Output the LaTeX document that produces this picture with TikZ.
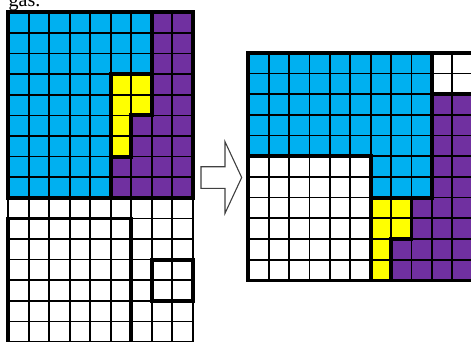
\documentclass[tikz,border=0pt]{standalone}
\usepackage{fontspec}
\setmainfont{Liberation Serif}
\definecolor{cblue}{HTML}{00B0F0}
\definecolor{cpurple}{HTML}{7030A0}
\definecolor{cyellow}{HTML}{FFFF00}
\begin{document}
\begin{tikzpicture}[x=1pt,y=-1pt,
  gridline/.style={line width=1.7pt, black},
  regionline/.style={line width=3.8pt, black, line cap=rect, line join=miter},
  arrowline/.style={line width=1.1pt, black!75, fill=white, line join=miter}]
\useasboundingbox (0,0) rectangle (471,342);
\clip (0,0) rectangle (471,342);
% text cut off at the top
\node[font=\fontsize{20}{24}\selectfont, anchor=base west, inner sep=0pt] (txt) at (8.5,6.6) {gas.};
% left grid
\begin{scope}[shift={(8.3pt,-12.4pt)}, x=20.5pt, y=-20.6pt]
  \fill[cblue] (0,0) -- (7,0) -- (7,3) -- (5,3) -- (5,9) -- (0,9) -- cycle;
  \fill[cpurple] (7,0) -- (9,0) -- (9,9) -- (5,9) -- (5,7) -- (6,7) -- (6,5) -- (7,5) -- cycle;
  \fill[cyellow] (5,3) -- (7,3) -- (7,5) -- (6,5) -- (6,7) -- (5,7) -- cycle;
  \foreach \c in {0,...,9} \draw[gridline] (\c,0) -- (\c,18);
  \foreach \r in {0,...,17} \draw[gridline] (0,\r) -- (9,\r);
  \draw[regionline] (0,0) rectangle (9,9);
  \draw[regionline] (7,0) -- (7,3) -- (5,3) -- (5,9);
  \draw[regionline] (7,3) -- (7,5) -- (6,5) -- (6,7) -- (5,7);
  \draw[regionline] (0,10) rectangle (6,19);
  \draw[regionline] (7,12) rectangle (9,14);
\end{scope}
% arrow
\draw[arrowline] (201,166.7) -- (225,166.7) -- (225,141.7) -- (241.7,177.5)
  -- (225,213.3) -- (225,188.3) -- (201,188.3) -- cycle;
% right grid
\begin{scope}[shift={(248.3pt,-52.7pt)}, x=20.4pt, y=-20.7pt]
  \fill[cblue] (0,0) -- (9,0) -- (9,7) -- (6,7) -- (6,5) -- (0,5) -- cycle;
  \fill[cpurple] (9,2) -- (11,2) -- (11,11) -- (7,11) -- (7,9) -- (8,9) -- (8,7) -- (9,7) -- cycle;
  \fill[cyellow] (6,7) -- (8,7) -- (8,9) -- (7,9) -- (7,11) -- (6,11) -- cycle;
  \foreach \c in {0,...,11} \draw[gridline] (\c,0) -- (\c,11);
  \foreach \r in {0,...,11} \draw[gridline] (0,\r) -- (11.5,\r);
  \draw[regionline] (11.5,0) -- (0,0) -- (0,11) -- (11.5,11);
  \draw[regionline] (0,5) -- (6,5) -- (6,11);
  \draw[regionline] (9,0) -- (9,7) -- (6,7);
  \draw[regionline] (9,2) -- (11.5,2);
  \draw[regionline] (8,7) -- (8,9) -- (7,9) -- (7,11);
\end{scope}
\end{tikzpicture}
\end{document}
